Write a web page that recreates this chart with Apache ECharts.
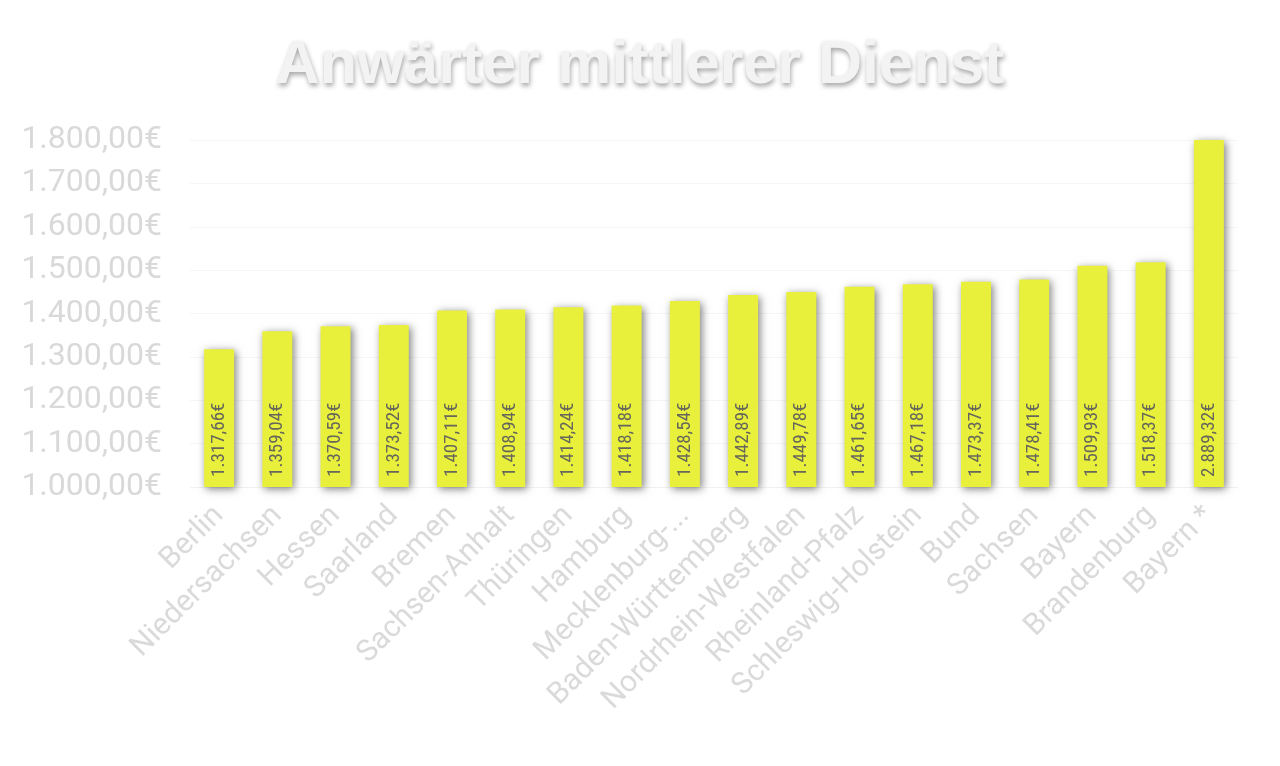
<!DOCTYPE html>
<html>
<head>
<meta charset="utf-8">
<script src="https://cdn.jsdelivr.net/npm/echarts@6/dist/echarts.min.js"></script>
<style>
  html, body { margin: 0; padding: 0; background: #ffffff; }
  #chart { width: 1280px; height: 766px; }
</style>
</head>
<body>
<div id="chart"></div>
<script>
var categories = ['Berlin', 'Niedersachsen', 'Hessen', 'Saarland', 'Bremen', 'Sachsen-Anhalt',
    'Thüringen', 'Hamburg', 'Mecklenburg-Vorpommern', 'Baden-Württemberg', 'Nordrhein-Westfalen',
    'Rheinland-Pfalz', 'Schleswig-Holstein', 'Bund', 'Sachsen', 'Bayern', 'Brandenburg', 'Bayern *'];
var values = [1317.66, 1359.04, 1370.59, 1373.52, 1407.11, 1408.94, 1414.24, 1418.18, 1428.54,
    1442.89, 1449.78, 1461.65, 1467.18, 1473.37, 1478.41, 1509.93, 1518.37, 2889.32];
var yMin = 1000;
var yMax = 1800;
var yStep = 100;

/* German number format: 1.234,56€ */
function euroFormatter(value) {
    var parts = Number(value).toFixed(2).split('.');
    var intPart = parts[0].replace(/\B(?=(\d{3})+(?!\d))/g, '.');
    return intPart + ',' + parts[1] + '€';
}

/* only the very long name gets cut, like in the original */
function shortLabel(value) {
    if (value.length > 20) {
        return value.slice(0, 11) + '-...';
    }
    return value;
}

var myChart = echarts.init(document.getElementById('chart'));

var option = {
    backgroundColor: '#ffffff',
    title: {
        text: 'Anwärter mittlerer Dienst',
        left: 'center',
        top: 31,
        textStyle: {
            fontFamily: 'Liberation Sans',
            fontWeight: 'bold',
            fontSize: 61,
            color: '#f3f3f3',
            textShadowColor: 'rgba(0, 0, 0, 0.35)',
            textShadowBlur: 5,
            textShadowOffsetX: 1,
            textShadowOffsetY: 3
        }
    },
    grid: {
        left: 190,
        right: 42,
        top: 140,
        bottom: 279
    },
    xAxis: {
        type: 'category',
        data: categories,
        axisLine: { show: true, lineStyle: { color: '#f2f2f2' } },
        axisTick: { show: false },
        axisLabel: {
            interval: 0,
            rotate: 45,
            margin: 24,
            fontFamily: 'Roboto',
            fontSize: 30,
            color: '#dadada',
            overflow: 'none',
            width: 500,
            formatter: shortLabel
        }
    },
    yAxis: {
        type: 'value',
        min: yMin,
        max: yMax,
        interval: yStep,
        axisLine: { show: false },
        axisTick: { show: false },
        splitLine: { lineStyle: { color: '#f6f6f6' } },
        axisLabel: {
            margin: 28,
            fontFamily: 'Roboto',
            fontSize: 32,
            color: '#d9d9d9',
            formatter: euroFormatter
        }
    },
    series: [{
        type: 'bar',
        data: values,
        barWidth: 30,
        clip: true,
        itemStyle: {
            color: '#e8f03c',
            shadowColor: 'rgba(0, 0, 0, 0.5)',
            shadowBlur: 8,
            shadowOffsetX: 2,
            shadowOffsetY: 2
        },
        label: {
            show: true,
            position: 'insideBottom',
            rotate: 90,
            align: 'left',
            verticalAlign: 'middle',
            distance: 10,
            fontFamily: 'Roboto Condensed, Roboto',
            fontSize: 19,
            color: '#66665a',
            formatter: function (p) {
                return euroFormatter(p.value);
            }
        }
    }]
};

myChart.setOption(option);
</script>
</body>
</html>
